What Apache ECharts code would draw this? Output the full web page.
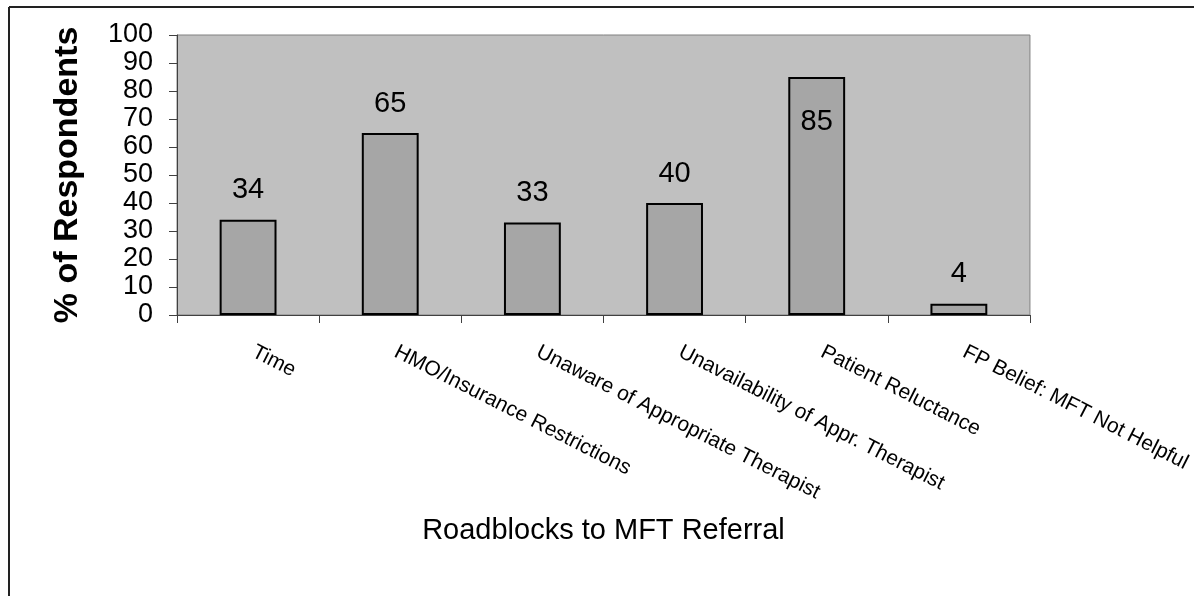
<!DOCTYPE html>
<html>
<head>
<meta charset="utf-8">
<script src="https://cdn.jsdelivr.net/npm/echarts@6/dist/echarts.min.js"></script>
<style>
  html, body { margin: 0; padding: 0; background: #fff; }
  #chart { width: 1194px; height: 596px; }
</style>
</head>
<body>
<div id="chart"></div>
<script>
// Survey results: roadblocks family physicians report when referring to MFT
const categories = [
  'Time',
  'HMO/Insurance Restrictions',
  'Unaware of Appropriate Therapist',
  'Unavailability of Appr. Therapist',
  'Patient Reluctance',
  'FP Belief: MFT Not Helpful'
];
const percentRespondents = [34, 65, 33, 40, 85, 4];
const xAxisTitle = 'Roadblocks to MFT Referral';
const yAxisTitle = '% of Respondents';

const FONT = '"Liberation Sans", Arial, sans-serif';

const chart = echarts.init(document.getElementById('chart'), null, { renderer: 'canvas' });

// Tall bars carry their value label inside the bar, the rest sit above it
const barData = percentRespondents.map(v => {
  if (v >= 80) {
    return { value: v, label: { position: 'insideTop', distance: 30 } };
  }
  return v;
});

chart.setOption({
  animation: false,
  backgroundColor: '#ffffff',
  grid: {
    left: 177, right: 162, top: 35, bottom: 281,
    show: true,
    backgroundColor: '#C0C0C0',
    borderColor: '#808080',
    borderWidth: 1
  },
  xAxis: {
    type: 'category',
    data: categories,
    name: xAxisTitle,
    nameLocation: 'middle',
    nameGap: 201,
    nameTextStyle: { fontFamily: FONT, fontSize: 29, color: '#000' },
    axisLine: { lineStyle: { color: '#404040', width: 1 } },
    axisTick: { show: true, inside: false, length: 8, lineStyle: { color: '#404040' } },
    axisLabel: {
      interval: 0,
      rotate: -27,
      margin: 33,
      padding: [0, 0, 0, 6],
      fontFamily: FONT,
      fontSize: 21,
      color: '#000'
    },
    splitLine: { show: false }
  },
  yAxis: {
    type: 'value',
    min: 0,
    max: 100,
    interval: 10,
    name: yAxisTitle,
    nameLocation: 'middle',
    nameGap: 92,
    nameRotate: 90,
    nameTextStyle: { fontFamily: FONT, fontSize: 34, fontWeight: 'bold', color: '#000' },
    axisLine: { show: true, lineStyle: { color: '#404040', width: 1 } },
    axisTick: { show: true, inside: false, length: 8, lineStyle: { color: '#404040' } },
    axisLabel: { margin: 24, fontFamily: FONT, fontSize: 27, color: '#000' },
    splitLine: { show: false }
  },
  series: [{
    type: 'bar',
    data: barData,
    barWidth: '40%',
    itemStyle: { color: '#A6A6A6', borderColor: '#000', borderWidth: 2 },
    label: {
      show: true,
      position: 'top',
      distance: 15,
      fontFamily: FONT,
      fontSize: 29,
      color: '#000'
    }
  }],
  graphic: [
    { type: 'line', shape: { x1: 9, y1: 7, x2: 9, y2: 596 }, style: { stroke: '#222', lineWidth: 2 } },
    { type: 'line', shape: { x1: 9, y1: 7, x2: 1194, y2: 7 }, style: { stroke: '#222', lineWidth: 2 } }
  ]
});
</script>
</body>
</html>
